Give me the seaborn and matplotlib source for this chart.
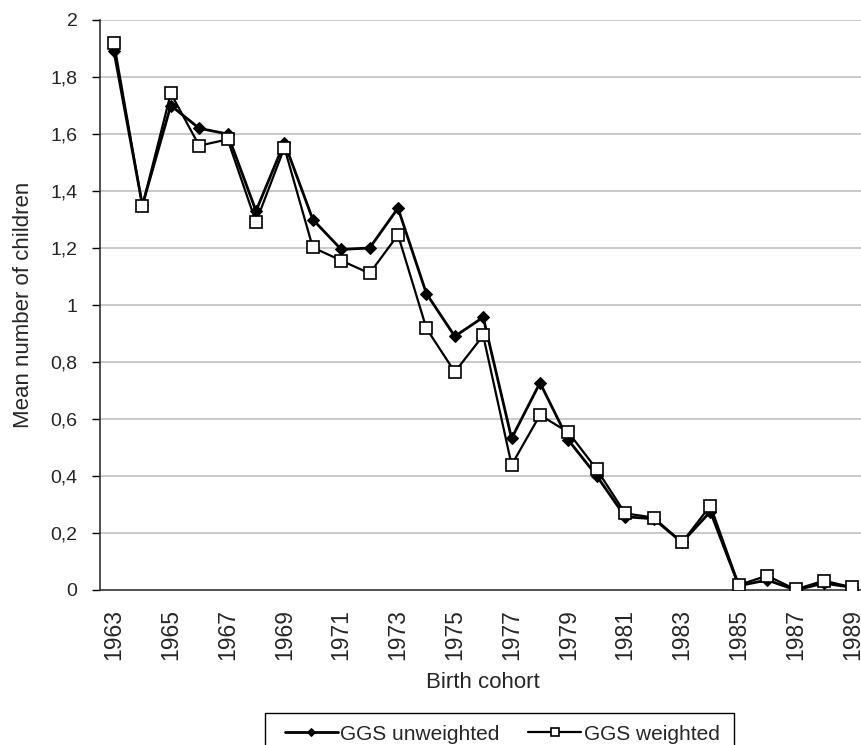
import matplotlib
matplotlib.use("Agg")
import matplotlib.pyplot as plt
from matplotlib.patches import Rectangle
import seaborn as sns
import pandas as pd
import numpy as np

years = list(range(1963, 1990))
unweighted = [1.89, 1.35, 1.70, 1.62, 1.60, 1.33, 1.57, 1.30, 1.195, 1.20, 1.34, 1.04,
              0.89, 0.957, 0.532, 0.727, 0.526, 0.40, 0.257, 0.25, 0.167, 0.275,
              0.015, 0.035, 0.0, 0.024, 0.009]
weighted = [1.92, 1.348, 1.743, 1.559, 1.581, 1.291, 1.552, 1.202, 1.156, 1.111, 1.246,
            0.918, 0.765, 0.893, 0.439, 0.614, 0.553, 0.423, 0.269, 0.254, 0.167, 0.296,
            0.018, 0.05, 0.002, 0.033, 0.009]
series_names = ["GGS unweighted", "GGS weighted"]
y_ticks = [0, 0.2, 0.4, 0.6, 0.8, 1.0, 1.2, 1.4, 1.6, 1.8, 2.0]
y_ticklabels = ["0", "0,2", "0,4", "0,6", "0,8", "1", "1,2", "1,4", "1,6", "1,8", "2"]

sns.set_style("white")
plt.rcParams['font.family'] = ['Liberation Sans', 'DejaVu Sans']

W, H = 861, 745
idx = list(range(len(years)))
df_u = pd.DataFrame({"pos": idx, "value": unweighted})
df_w = pd.DataFrame({"pos": idx, "value": weighted})

fig = plt.figure(figsize=(W / 100, H / 100), dpi=100)
ax = fig.add_axes([99.8 / W, 1 - 590 / H, 766.8 / W, 570 / H])

for yv in y_ticks[1:]:
    ax.axhline(yv, color="#c0c0c0", lw=1.2, zorder=0)

sns.lineplot(data=df_u, x="pos", y="value", ax=ax, color="black", lw=2,
             marker="D", markersize=6.5, markerfacecolor="black", markeredgecolor="black",
             label=series_names[0], zorder=3)
sns.lineplot(data=df_w, x="pos", y="value", ax=ax, color="black", lw=1.6,
             marker="s", markersize=8.5, markerfacecolor="white", markeredgecolor="black",
             markeredgewidth=1.2, label=series_names[1], zorder=4)

ax.set_xlim(-0.5, len(years) - 0.5)
ax.set_ylim(0, 2)
ax.set_yticks(y_ticks)
ax.set_yticklabels(y_ticklabels, fontsize=14)
ax.set_xticks(idx[::2])
ax.set_xticklabels([str(y) for y in years[::2]], rotation=90, fontsize=16.5)
ax.tick_params(axis="x", length=0, pad=14)
ax.set_xticks(np.arange(-0.5, len(years), 1.0), minor=True)
ax.tick_params(axis="x", which="minor", length=5, width=1, color="black", direction="out")
ax.tick_params(axis="y", length=6, width=1, color="black", direction="out", left=True, pad=10)

for s in ["top", "right"]:
    ax.spines[s].set_visible(False)
ax.spines["left"].set_color("#333333")
ax.spines["bottom"].set_color("#333333")
ax.spines["left"].set_linewidth(1.2)
ax.spines["bottom"].set_linewidth(1.2)

ax.set_xlabel("Birth cohort", fontsize=16, labelpad=8)
ax.set_ylabel("Mean number of children", fontsize=16, labelpad=12)

ax.get_legend().remove()
handles, labels = ax.get_legend_handles_labels()
fig.patches.append(Rectangle((265 / W, -0.05), (734 - 265) / W, 0.05 + 1 - 713 / H,
                             transform=fig.transFigure, facecolor="white",
                             edgecolor="black", lw=1.0, zorder=0))
leg = fig.legend(handles, labels, loc="center", ncol=2,
                 bbox_to_anchor=(502 / W, 1 - 734 / H), frameon=False,
                 fontsize=15, handlelength=2.55, handletextpad=0.1, columnspacing=1.4,
                 borderpad=0, borderaxespad=0, markerscale=0.65)

fig.savefig("out.png", dpi=100)
